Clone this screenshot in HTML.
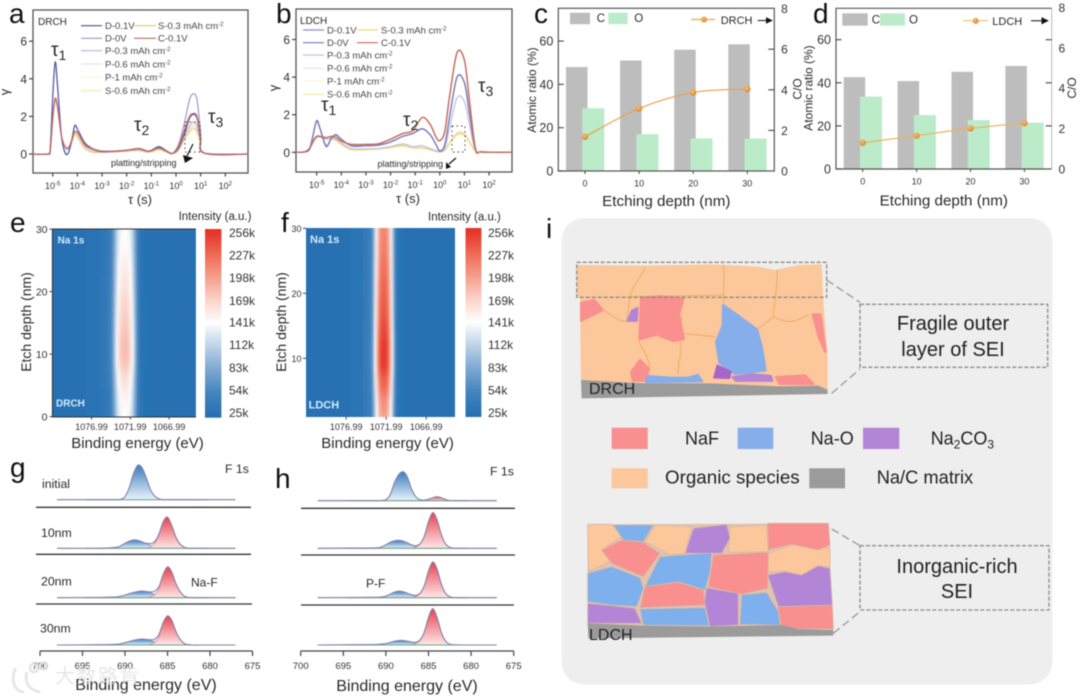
<!DOCTYPE html>
<html lang="en">
<head>
<meta charset="utf-8">
<title>SEI characterisation figure</title>
<style>
html,body{margin:0;padding:0;background:#fff;width:1080px;height:698px;overflow:hidden}
svg{display:block;filter:blur(0.4px)}
text{font-family:"Liberation Sans","Noto Sans CJK SC",sans-serif;fill:#2a2a2a}
.letter{font-size:28px;fill:#111}
.leg{font-size:9.5px;fill:#444}
.title{font-size:15.2px;fill:#2a2a2a}
</style>
</head>
<body>
<svg id="fig" width="1080" height="698" viewBox="0 0 1080 698" xmlns="http://www.w3.org/2000/svg">
<defs>
<linearGradient id="grad-blue" x1="0" y1="0" x2="0" y2="1"><stop offset="0" stop-color="#3a7dbf"/><stop offset="1" stop-color="#eaf2fa"/></linearGradient>
<linearGradient id="grad-red" x1="0" y1="0" x2="0" y2="1"><stop offset="0" stop-color="#e8404f"/><stop offset="1" stop-color="#fde8e8"/></linearGradient>
<radialGradient id="grad-dot" cx="0.4" cy="0.35" r="0.7"><stop offset="0" stop-color="#f7c27a"/><stop offset="1" stop-color="#d9801f"/></radialGradient>
<clipPath id="clip-e"><rect x="52.4" y="229" width="143.5" height="188"/></clipPath>
<clipPath id="clip-f"><rect x="306" y="228" width="149" height="189"/></clipPath>
<filter id="heat-blur" x="-5%" y="-5%" width="110%" height="110%"><feGaussianBlur stdDeviation="0.7 6"/></filter>
</defs>
<rect x="0" y="0" width="1080" height="698" fill="#fff"/>

<!-- PANEL A -->
<g id="panel-a">
<text class="letter" x="9" y="23">a</text>
<rect x="33" y="10" width="215" height="163" fill="none" stroke="#555" stroke-width="1.3"/>
<text x="38" y="25" font-size="10">DRCH</text>
<g id="a-ticks"></g>
<g id="a-lines"></g>
<text x="9" y="92" font-size="13" transform="rotate(-90 9 92)" text-anchor="middle">γ</text>
<text x="140" y="204" font-size="13" text-anchor="middle">τ (s)</text>
<text x="51" y="56" font-size="19">τ<tspan font-size="14" dy="4">1</tspan></text>
<text x="134" y="131" font-size="19">τ<tspan font-size="14" dy="4">2</tspan></text>
<text x="208" y="123" font-size="19">τ<tspan font-size="14" dy="4">3</tspan></text>
<text x="111" y="166" font-size="9" fill="#222">platting/stripping</text>
<rect x="185" y="122" width="15" height="30" fill="none" stroke="#444" stroke-width="1" stroke-dasharray="1.5 3"/>
<path d="M193,144 L187,156" stroke="#111" stroke-width="1.2" fill="none"/>
<path d="M183,155 L193,158 L185,163 Z" fill="#111"/>
<g>
<line x1="81" x2="102" y1="25.7" y2="25.7" stroke="#4a4f98" stroke-width="1.1"/><text class="leg" x="105" y="29">D-0.1V</text>
<line x1="134" x2="156" y1="25.7" y2="25.7" stroke="#f2c76e" stroke-width="1.1"/><text class="leg" x="158" y="29">S-0.3 mAh cm<tspan font-size="6" dy="-3">-2</tspan></text>
<line x1="81" x2="102" y1="38.3" y2="38.3" stroke="#9c98cf" stroke-width="1.1"/><text class="leg" x="105" y="41.6">D-0V</text>
<line x1="134" x2="156" y1="38.3" y2="38.3" stroke="#c46a60" stroke-width="1.1"/><text class="leg" x="158" y="41.6">C-0.1V</text>
<line x1="81" x2="102" y1="50.7" y2="50.7" stroke="#bdb2d3" stroke-width="1.1"/><text class="leg" x="105" y="54">P-0.3 mAh cm<tspan font-size="6" dy="-3">-2</tspan></text>
<line x1="81" x2="102" y1="64" y2="64" stroke="#e2deec" stroke-width="1.1"/><text class="leg" x="105" y="67.3">P-0.6 mAh cm<tspan font-size="6" dy="-3">-2</tspan></text>
<line x1="81" x2="102" y1="77.3" y2="77.3" stroke="#fbf4d0" stroke-width="1.1"/><text class="leg" x="105" y="80.6">P-1 mAh cm<tspan font-size="6" dy="-3">-2</tspan></text>
<line x1="81" x2="102" y1="90.7" y2="90.7" stroke="#f6e8a6" stroke-width="1.1"/><text class="leg" x="105" y="94">S-0.6 mAh cm<tspan font-size="6" dy="-3">-2</tspan></text>
</g>
</g>

<!-- PANEL B -->
<g id="panel-b">
<text class="letter" x="276" y="23">b</text>
<rect x="296" y="9" width="216" height="163" fill="none" stroke="#555" stroke-width="1.3"/>
<text x="300" y="24" font-size="10">LDCH</text>
<g id="b-ticks"></g>
<g id="b-lines"></g>
<text x="278" y="88" font-size="13" transform="rotate(-90 278 88)" text-anchor="middle">γ</text>
<text x="408" y="203" font-size="13" text-anchor="middle">τ (s)</text>
<text x="321" y="111" font-size="19">τ<tspan font-size="14" dy="4">1</tspan></text>
<text x="403" y="126" font-size="19">τ<tspan font-size="14" dy="4">2</tspan></text>
<text x="478" y="92" font-size="19">τ<tspan font-size="14" dy="4">3</tspan></text>
<text x="377.5" y="167" font-size="9" fill="#222">platting/stripping</text>
<rect x="452" y="126" width="13" height="26" fill="none" stroke="#444" stroke-width="1" stroke-dasharray="1.5 3"/>
<path d="M456,158 L449,164" stroke="#111" stroke-width="1.2" fill="none"/>
<path d="M446,162 L451,167 L446,169 Z" fill="#111"/>
<g>
<line x1="303" x2="324" y1="30" y2="30" stroke="#8c90cc" stroke-width="1.2"/><text class="leg" x="327" y="33.3">D-0.1V</text>
<line x1="357" x2="378" y1="30" y2="30" stroke="#f2d67e" stroke-width="1.2"/><text class="leg" x="381" y="33.3">S-0.3 mAh cm<tspan font-size="6" dy="-3">-2</tspan></text>
<line x1="303" x2="324" y1="42.7" y2="42.7" stroke="#7a7ab8" stroke-width="1.2"/><text class="leg" x="327" y="46">D-0V</text>
<line x1="357" x2="378" y1="42.7" y2="42.7" stroke="#c4705e" stroke-width="1.2"/><text class="leg" x="381" y="46">C-0.1V</text>
<line x1="303" x2="324" y1="55" y2="55" stroke="#c5c0de" stroke-width="1.2"/><text class="leg" x="327" y="58.3">P-0.3 mAh cm<tspan font-size="6" dy="-3">-2</tspan></text>
<line x1="303" x2="324" y1="68.3" y2="68.3" stroke="#e4e0ee" stroke-width="1.2"/><text class="leg" x="327" y="71.6">P-0.6 mAh cm<tspan font-size="6" dy="-3">-2</tspan></text>
<line x1="303" x2="324" y1="81" y2="81" stroke="#fbf6d4" stroke-width="1.2"/><text class="leg" x="327" y="84.3">P-1 mAh cm<tspan font-size="6" dy="-3">-2</tspan></text>
<line x1="303" x2="324" y1="94.3" y2="94.3" stroke="#f0ee9c" stroke-width="1.2"/><text class="leg" x="327" y="97.6">S-0.6 mAh cm<tspan font-size="6" dy="-3">-2</tspan></text>
</g>
</g>

<!-- PANEL C -->
<g id="panel-c">
<text class="letter" x="534" y="23">c</text>
<g id="c-bars"></g>
<rect x="558.3" y="8.3" width="216" height="162.7" fill="none" stroke="#555" stroke-width="1.2"/>
<g id="c-ticks"></g>
<g id="c-line"></g>
<rect x="570" y="12.7" width="20" height="11.5" fill="#bdbdbd"/>
<text x="596.7" y="22" font-size="11.5">C</text>
<rect x="608.3" y="12.7" width="19.4" height="11.5" fill="#bcebca"/>
<text x="634.3" y="22" font-size="11.5">O</text>
<line x1="691" x2="715" y1="19.5" y2="19.5" stroke="#eaa94d" stroke-width="1.2"/>
<circle cx="704" cy="19.5" r="3" fill="url(#grad-dot)"/>
<text x="720.7" y="24" font-size="11">DRCH</text>
<path d="M757.7,20.5 H766.5 M766.5,18 L771.7,20.5 L766.5,23 Z" stroke="#111" fill="#111" stroke-width="1"/>
<text x="536" y="90" font-size="12" text-anchor="middle" transform="rotate(-90 536 90)">Atomic ratio (%)</text>
<text x="801.7" y="89" font-size="12" text-anchor="middle" transform="rotate(-90 801.7 89)">C/O</text>
<text class="title" x="666.3" y="206" text-anchor="middle">Etching depth (nm)</text>
</g>

<!-- PANEL D -->
<g id="panel-d">
<text class="letter" x="813" y="23">d</text>
<g id="d-bars"></g>
<path d="M1051.7,8.3 H836 V169 H1051.7" fill="none" stroke="#555" stroke-width="1.2"/>
<line x1="1051.7" x2="1051.7" y1="8.3" y2="169" stroke="#aaa" stroke-width="0.8"/>
<rect x="842.3" y="13.3" width="25.4" height="12.4" fill="#bdbdbd"/>
<text x="871.7" y="23.5" font-size="11.5">C</text>
<rect x="880" y="13.3" width="25" height="12.4" fill="#bcebca"/>
<text x="909" y="23.5" font-size="11.5">O</text>
<g id="d-ticks"></g>
<g id="d-line"></g>
<line x1="963.3" x2="988.3" y1="20.7" y2="20.7" stroke="#eac06a" stroke-width="1.2"/>
<circle cx="975.7" cy="20.7" r="3" fill="url(#grad-dot)"/>
<text x="992.3" y="25" font-size="11">LDCH</text>
<path d="M1031,20.8 H1042 M1042,18 L1047.7,20.8 L1042,23.6 Z" stroke="#111" fill="#111" stroke-width="1"/>
<text x="812.3" y="88" font-size="12" text-anchor="middle" transform="rotate(-90 812.3 88)">Atomic ratio (%)</text>
<text x="1076" y="88" font-size="12" text-anchor="middle" transform="rotate(-90 1076 88)">C/O</text>
<text class="title" x="943.8" y="205.7" text-anchor="middle">Etching depth (nm)</text>
</g>

<!-- PANEL E -->
<g id="panel-e">
<text class="letter" x="10" y="232">e</text>
<rect x="52.4" y="229" width="143.5" height="188" fill="#2771b3"/>
<g clip-path="url(#clip-e)"><g id="e-cells" filter="url(#heat-blur)"></g></g>
<path d="M52.4,229 V417 H195.9 M52.4,229 H195.9" fill="none" stroke="#333" stroke-width="1"/>
<g id="e-ticks"></g>
<text x="57.6" y="243.5" font-size="10" font-weight="bold" style="fill:#d3ebf8">Na 1s</text>
<text x="56" y="406.5" font-size="10" font-weight="bold" style="fill:#d3ebf8">DRCH</text>
<text x="178.6" y="220" font-size="11.5">Intensity (a.u.)</text>
<text x="137.5" y="448" font-size="15" text-anchor="middle">Binding energy (eV)</text>
<text x="31" y="322" font-size="14" text-anchor="middle" transform="rotate(-90 31 322)">Etch depth (nm)</text>
<rect id="cb-e" x="205" y="229" width="16.4" height="188.7"/>
</g>

<!-- PANEL F -->
<g id="panel-f">
<text class="letter" x="281" y="232">f</text>
<rect x="306" y="228" width="149" height="189" fill="#2771b3"/>
<g clip-path="url(#clip-f)"><g id="f-cells" filter="url(#heat-blur)"></g></g>
<g id="f-ticks"></g>
<text x="310" y="243" font-size="11" font-weight="bold" style="fill:#d3ebf8">Na 1s</text>
<text x="308.6" y="408.5" font-size="11" font-weight="bold" style="fill:#d3ebf8">LDCH</text>
<text x="428" y="220.5" font-size="11.5">Intensity (a.u.)</text>
<text x="387.6" y="448" font-size="15" text-anchor="middle">Binding energy (eV)</text>
<text x="286" y="322" font-size="14" text-anchor="middle" transform="rotate(-90 286 322)">Etch depth (nm)</text>
<rect id="cb-f" x="465.5" y="228" width="15.9" height="189"/>
</g>

<!-- PANEL G -->
<g id="panel-g">
<text class="letter" x="10" y="477">g</text>
<g id="g-spectra"></g>
<g id="g-axis"></g>
<path d="M36,507.3 H251 M36,554.3 H251 M36,604 H252" stroke="#333" stroke-width="1.3" fill="none"/>
<text x="225" y="473" font-size="12.3">F 1s</text>
<text x="42" y="488" font-size="12.3">initial</text>
<text x="41" y="537" font-size="12.3">10nm</text>
<text x="41" y="585.7" font-size="12.3">20nm</text>
<text x="40" y="632.7" font-size="12.3">30nm</text>
<text x="191" y="586.7" font-size="12">Na-F</text>
<text x="146" y="690" font-size="16" text-anchor="middle">Binding energy (eV)</text>
</g>

<!-- PANEL H -->
<g id="panel-h">
<text class="letter" x="275" y="488">h</text>
<g id="h-spectra"></g>
<g id="h-axis"></g>
<path d="M301,508.3 H515 M301,555 H515 M301,605 H514" stroke="#333" stroke-width="1.3" fill="none"/>
<text x="490" y="475.7" font-size="12.3">F 1s</text>
<text x="366" y="587.3" font-size="12">P-F</text>
<text x="407" y="691" font-size="16" text-anchor="middle">Binding energy (eV)</text>
</g>

<!-- PANEL I -->
<g id="panel-i">
<text class="letter" x="546" y="238">i</text>
<rect x="561.7" y="218.3" width="490.6" height="466" rx="22" ry="22" fill="#eeeeee"/>
<g transform="translate(545,215) scale(0.33333)" stroke-linejoin="round">
<polygon points="95,150 300,152 510,148 640,155 690,165 760,150 830,148 835,260 848,420 848,525 108,505 105,250 95,240" fill="#fcc79a"/>
<g fill="none" stroke="#e8b062" stroke-width="3">
<path d="M300,155 C290,190 260,210 255,245 L245,320 C225,320 195,300 178,285"/>
<path d="M535,150 C540,190 535,230 535,265"/>
<path d="M695,165 C700,200 690,240 685,305 C720,320 740,330 790,298"/>
<path d="M640,340 C660,325 670,320 685,305"/>
<path d="M405,355 L510,365"/>
<path d="M405,385 C412,410 400,440 398,480"/>
<path d="M280,378 C290,400 310,420 315,460"/>
<path d="M255,245 L535,240 M410,300 L405,385"/>
</g>
<g fill="#f98f8f" stroke="#f98f8f" stroke-width="8">
<polygon points="109,264 148,256 172,285 109,316"/>
<polygon points="289,249 345,244 414,252 401,300 416,371 385,378 335,358 284,372"/>
<polygon points="804,299 826,299 841,410 822,366"/>
<polygon points="264,496 259,472 285,436 311,462 301,496"/>
<polygon points="694,487 780,482 804,506 704,506"/>
</g>
<g fill="#86aeea" stroke="#86aeea" stroke-width="8">
<polygon points="535,271 588,309 636,344 651,402 661,466 570,476 524,443 514,380 534,332"/>
<polygon points="309,484 375,489 430,489 458,480 470,498 304,501"/>
</g>
<g fill="#b385d6" stroke="#b385d6" stroke-width="5">
<polygon points="247,318 260,287 278,278 276,318"/>
<polygon points="507,488 517,451 558,470 553,490" fill="#a865c9" stroke="#a865c9"/>
<polygon points="562,486 620,477 678,482 683,498 572,498"/>
</g>
<polygon points="108,495 300,505 500,505 700,514 820,512 848,525 848,537 110,550" fill="#9b9b9b"/>
<rect x="95" y="142" width="750" height="105" fill="none" stroke="#8c8c8c" stroke-width="4" stroke-dasharray="12 6"/>
<path d="M845,195 L945,262 M860,535 L945,462" fill="none" stroke="#9a9a9a" stroke-width="4" stroke-dasharray="24 12"/>
<rect x="945" y="268" width="563" height="189" fill="none" stroke="#8c8c8c" stroke-width="4" stroke-dasharray="12 6"/>
</g>
<text x="589" y="394" font-size="16" style="fill:#222">DRCH</text>
<text x="953" y="330" font-size="20" text-anchor="middle" style="fill:#222">Fragile outer</text>
<text x="953" y="356" font-size="20" text-anchor="middle" style="fill:#222">layer of SEI</text>

<g>
<rect x="611.7" y="427.7" width="36" height="21.3" fill="#f98f8f"/>
<text x="685" y="444.5" font-size="18" style="fill:#222">NaF</text>
<rect x="737.7" y="427.7" width="35.6" height="21.3" fill="#86aeea"/>
<text x="810.7" y="444.5" font-size="18" style="fill:#222">Na-O</text>
<rect x="863" y="427.7" width="36.3" height="21.3" fill="#b385d6"/>
<text x="930.7" y="444.5" font-size="18" style="fill:#222">Na<tspan font-size="12" dy="4">2</tspan><tspan dy="-4">CO</tspan><tspan font-size="12" dy="4">3</tspan></text>
<rect x="611.7" y="468.3" width="36" height="20" fill="#fcc79a"/>
<text x="665" y="483.5" font-size="18.8" style="fill:#222">Organic species</text>
<rect x="809.3" y="468.3" width="35.7" height="20" fill="#9b9b9b"/>
<text x="876.7" y="483.5" font-size="18.3" style="fill:#222">Na/C matrix</text>
</g>

<g transform="translate(545,455) scale(0.33333)" stroke="#d4b8a8" stroke-width="2.5" stroke-linejoin="round">
<polygon points="128,208 850,205 865,525 128,510" fill="#e3c3ae" stroke="none"/>
<g fill="#fcc79a">
<polygon points="128,208 200,208 230,245 170,285 195,320 130,350"/>
<polygon points="330,210 440,215 420,295 375,300 300,260"/>
<polygon points="555,215 665,210 670,290 550,292"/>
<polygon points="670,295 740,270 855,278 855,335 815,335 770,360 720,348 670,352"/>
</g>
<g fill="#f98f8f">
<polygon points="668,205 850,205 855,270 820,285 740,268 670,285"/>
<polygon points="170,285 230,255 295,262 345,295 295,365 200,325"/>
<polygon points="505,300 670,292 668,400 590,418 490,395"/>
<polygon points="300,395 400,382 475,405 480,450 285,458"/>
<polygon points="698,455 862,450 865,522 710,520"/>
</g>
<g fill="#7db0ec">
<polygon points="205,210 325,210 295,260 235,255"/>
<polygon points="128,355 200,335 285,368 295,400 275,455 200,450 128,440"/>
<polygon points="345,305 500,293 495,350 480,405 400,380 300,395"/>
<polygon points="285,462 480,458 492,512 295,510"/>
<polygon points="590,420 665,412 700,470 705,510 585,508"/>
</g>
<g fill="#b385d6">
<polygon points="445,220 545,208 555,250 530,295 420,295"/>
<polygon points="668,360 720,350 770,360 820,332 855,340 862,450 700,455"/>
<polygon points="128,445 200,452 270,460 290,505 128,505"/>
<polygon points="485,398 580,415 580,510 495,515 478,440"/>
</g>
<polygon points="128,505 300,512 500,515 710,510 760,522 865,525 865,542 130,550" fill="#9b9b9b" stroke="none"/>
<path d="M860,222 L945,272 M865,535 L945,470" fill="none" stroke="#9a9a9a" stroke-width="4" stroke-dasharray="24 12"/>
<rect x="945" y="272" width="567" height="193" fill="none" stroke="#8c8c8c" stroke-width="4" stroke-dasharray="12 6"/>
</g>
<text x="589" y="640" font-size="16" style="fill:#222">LDCH</text>
<text x="957" y="573" font-size="20" text-anchor="middle" style="fill:#222">Inorganic-rich</text>
<text x="957" y="598" font-size="20" text-anchor="middle" style="fill:#222">SEI</text>
</g>

<!-- WATERMARK -->
<g opacity="0.8">
<path d="M16,668 C10,678 14,692 24,692 M27,672 C24,684 30,690 40,692 M30,668 a4,4 0 1 0 8,0 a4,4 0 1 0 -8,0 M40,666 a3.5,3.5 0 1 0 7,0 a3.5,3.5 0 1 0 -7,0" fill="none" stroke="#e2e2e2" stroke-width="3"/>
<text x="55" y="683" font-size="20" letter-spacing="1.5" style="fill:#e2e2e2">大数路肯</text>
</g>

<script>
// ---------- panel a (DRT, gamma vs log10 tau) ----------
var aTau = [-5.8,-5.2,-5.1,-5.0,-4.9,-4.8,-4.65,-4.5,-4.35,-4.2,-4.1,-3.95,-3.7,-3.4,-3.0,-2.5,-2.0,-1.5,-1.1,-0.7,-0.4,-0.15,0.1,0.35,0.55,0.7,0.85,1.0,1.15,2.93];
var aD01 = [0,0,.3,3,4.9,3.6,1,.05,.1,.9,1.5,1.2,.6,.3,.15,.15,.2,.28,.15,.38,.18,.03,.3,1.1,1.9,2.1,1.9,.8,.05,0];
var aD0  = [0,0,.3,3,4.85,3.5,1,.1,.1,.95,1.55,1.2,.6,.3,.15,.15,.2,.3,.15,.4,.18,.03,.5,1.7,2.9,3.2,2.9,1.2,.05,0];
var aP03 = [0,0,.2,1.8,2.85,2.4,1,.35,.3,.8,1.2,1,.45,.2,.1,.12,.2,.22,.12,.3,.15,.03,.3,1,1.5,1.7,1.5,.7,.05,0];
var aP06 = [0,0,.2,1.8,2.85,2.4,1,.35,.25,.7,1.1,.8,.3,.12,.1,.1,.15,.18,.1,.25,.12,.02,.25,.9,1.3,1.45,1.3,.6,.05,0];
var aP1  = [0,0,.2,1.8,2.85,2.4,1,.35,.25,.65,1,.7,.2,.08,.08,.1,.13,.15,.08,.2,.1,.02,.2,.7,1.1,1.2,1.1,.5,.04,0];
var aS03 = [0,0,.2,1.85,2.9,2.4,1,.35,.3,.75,1.1,.85,.35,.1,.1,.12,.15,.2,.1,.25,.12,.02,.2,.8,1.2,1.35,1.2,.55,.04,0];
var aS06 = [0,0,.2,1.85,2.9,2.4,1,.35,.28,.72,1.05,.8,.3,.1,.1,.12,.15,.18,.1,.22,.1,.02,.25,.9,1.4,1.55,1.4,.6,.04,0];
var aC01 = [0,0,.2,1.9,2.95,2.5,1,.4,.35,.85,1.2,1.05,.5,.28,.12,.15,.2,.28,.15,.32,.15,.02,.4,1.3,2,2.15,2,.9,.05,0];

// ---------- panel b ----------
var bTau = [-5.8,-5.5,-5.3,-5.15,-5.0,-4.85,-4.62,-4.4,-4.22,-4.0,-3.6,-3.0,-2.5,-2.0,-1.5,-1.1,-0.72,-0.4,-0.15,0.0,0.2,0.4,0.7,1.0,1.2,1.45,1.7,2.93];
var bD01 = [0,.02,.15,.9,1.7,1.2,.3,.75,.95,.7,.35,.35,.38,.55,.85,1,1.25,.95,.4,.05,.4,1.9,4,3.7,2.1,.15,.02,0];
var bD0  = [0,.02,.15,.9,1.65,1.2,.35,.75,.92,.7,.35,.35,.38,.55,.85,1,1.25,.95,.4,.08,.4,1.9,4,3.7,2.1,.15,.02,0];
var bP03 = [0,.02,.15,.5,.8,.8,.7,.75,.7,.5,.2,.18,.2,.3,.45,.3,.35,.2,.08,.03,.2,1.3,2.9,2.7,1.5,.1,.02,0];
var bP06 = [0,.02,.15,.5,.8,.8,.7,.72,.65,.45,.15,.15,.18,.25,.38,.25,.25,.15,.05,.02,.1,.5,1.05,1,.6,.08,.01,0];
var bP1  = [0,.02,.15,.5,.78,.78,.68,.7,.62,.4,.12,.12,.15,.2,.3,.2,.2,.12,.04,.02,.1,.45,.9,.88,.55,.07,.01,0];
var bS03 = [0,.02,.15,.52,.82,.82,.72,.72,.66,.45,.16,.16,.2,.28,.36,.26,.24,.14,.05,.02,.1,.5,.95,.92,.55,.07,.01,0];
var bS06 = [0,.02,.15,.52,.8,.8,.7,.7,.62,.42,.14,.15,.18,.26,.34,.24,.22,.12,.05,.02,.1,.5,1,.96,.58,.07,.01,0];
var bC01 = [0,.02,.2,.6,.85,.85,.78,.85,.8,.6,.42,.42,.45,.7,1,1.15,1.85,1.5,.8,.62,1.1,3,5.3,4.9,2.8,.2,.02,0];

var drtTickExponents = [-5,-4,-3,-2,-1,0,1,2];
var drtGammaTicks = [0,2,4,6];

// ---------- panels c, d (atomic ratio bars + C/O line) ----------
var depthCategories = [0,10,20,30];
var cCarbon = [48,51,56,58.5];
var cOxygen = [29,17,15,15];
var cRatio  = [1.69,3.08,3.87,4.04];
var dCarbon = [42.6,40.8,45.1,47.8];
var dOxygen = [33.6,25,22.7,21.5];
var dRatio  = [1.3,1.65,2.01,2.27];
var atomicTicks = [0,20,40,60];
var ratioTicks = [0,2,4,6,8];

// ---------- panels e, f (heatmaps, intensity in k counts) ----------
var heatDepths = [0,3,6,9,12,15,18,21,24,27,30];
var ePeakIntensity = [142,150,163,182,183,176,170,162,155,147,142];
var fPeakIntensity = [195,208,232,256,256,246,238,232,225,218,214];
var peakOffsets = [-5,-3.2,-2.5,-2.1,-1.8,-1.5,-1.2,-0.9,-0.6,-0.3,0,0.3,0.6,0.9,1.2,1.5,1.8,2.1,2.5,3.2];
var peakProfile = [0,.04,.08,.1,.16,.34,.58,.8,.93,.98,1,.98,.93,.8,.58,.3,.1,.03,.01,0];
var energyTicks = [1076.99,1071.99,1066.99];
var eDepthTicks = [0,10,20,30];
var fDepthTicks = [10,20,30];
var colorbarValues = [25,54,83,112,141,169,198,227,256];
var colorbarColors = ['#2771b3','#4686c0','#7ea9d2','#bed3e7','#ffffff','#fbd5cb','#f5a08d','#ee6b56','#e5352a'];

// ---------- panels g, h (F 1s spectra) ----------
var bindingGrid = [698,693,691,690.5,690,689.5,689,688.5,688,687.5,687,686.5,686,685.5,685,684.5,684,683.5,683,682.5,682,681,677];
var gBlueInitial = [0,0,0,.5,3,12,26,34.5,32,22,10,3.5,1,0,0,0,0,0,0,0,0,0,0];
var gBlue10 = [0,0,1,2.5,5,7.2,8.3,8,6.5,5,3.2,1.8,.6,0,0,0,0,0,0,0,0,0,0];
var gBlue20 = [0,.3,.8,1.5,2.6,4,5.2,6.2,6.7,6.2,5,3.6,2.2,1,.3,0,0,0,0,0,0,0,0];
var gBlue30 = [0,.3,.7,1.3,2.3,3.5,4.6,5.5,6,5.6,4.6,3.4,2.2,1.1,.3,0,0,0,0,0,0,0,0];
var gRedInitial = [0,0,0,0,0,0,0,0,0,0,0,0,0,0,0,0,0,0,0,0,0,0,0];
var gRed10 = [0,0,0,0,0,0,0,0,0,0,1.5,5,14,27,31.5,23,11,4,1,0,0,0,0];
var gRed20 = [0,0,0,0,0,0,0,0,0,0,.8,3,9,23,31,26,14,6,1.5,.3,0,0,0];
var gRed30 = [0,0,0,0,0,0,0,0,0,0,.6,2.5,8.5,22,29.3,25,13.5,5.5,1.3,.3,0,0,0];
var hBlue1 = [0,0,0,.3,1,6,18,26,29,24,12,4,1,.2,0,0,0,0,0,0,0,0,0];
var hBlue2 = [0,.2,.5,1.5,3.5,6,7.5,8,7.3,5.5,3.3,1.5,.5,0,0,0,0,0,0,0,0,0,0];
var hBlue3 = [0,.3,.5,.8,1.5,3.5,5.5,6.5,6,4.5,2.8,1.3,.4,0,0,0,0,0,0,0,0,0,0];
var hBlue4 = [0,.3,.6,1,1.5,2.5,3.7,4.4,4.5,3.8,2.8,1.6,.6,.1,0,0,0,0,0,0,0,0,0];
var hRed1 = [0,0,0,0,0,0,0,0,0,0,0,0,0,.3,1.5,3,4,3,1.2,.2,0,0,0];
var hRed2 = [0,0,0,0,0,0,0,0,0,0,.2,1,4,12,27,36,29,14,4.5,1,.2,0,0];
var hRed3 = [0,0,0,0,0,0,0,0,0,0,.2,1,4,12,27,36,29,14,4.5,1,.2,0,0];
var hRed4 = [0,0,0,0,0,0,0,0,0,0,.2,1.2,4.5,13,28,36.7,28,13,4,.8,.2,0,0];
var bindingTicks = [700,695,690,685,680,675];

var NS = 'http://www.w3.org/2000/svg';
function mk(tag, parentId) {
  var el = document.createElementNS(NS, tag);
  (typeof parentId === 'string' ? document.getElementById(parentId) : parentId).appendChild(el);
  return el;
}
function smooth(pts) {
  var d = 'M' + pts[0][0].toFixed(2) + ',' + pts[0][1].toFixed(2);
  for (var i = 0; i < pts.length - 1; i++) {
    var p0 = pts[Math.max(i - 1, 0)], p1 = pts[i], p2 = pts[i + 1], p3 = pts[Math.min(i + 2, pts.length - 1)];
    var c1x = p1[0] + (p2[0] - p0[0]) / 6, c1y = p1[1] + (p2[1] - p0[1]) / 6;
    var c2x = p2[0] - (p3[0] - p1[0]) / 6, c2y = p2[1] - (p3[1] - p1[1]) / 6;
    d += 'C' + c1x.toFixed(2) + ',' + c1y.toFixed(2) + ' ' + c2x.toFixed(2) + ',' + c2y.toFixed(2) + ' ' + p2[0].toFixed(2) + ',' + p2[1].toFixed(2);
  }
  return d;
}
function drawTick(parent, x1, y1, x2, y2, w) {
  var t = mk('line', parent);
  
  
  t.setAttribute('x1', x1); t.setAttribute('y1', y1); t.setAttribute('x2', x2); t.setAttribute('y2', y2);
  t.setAttribute('stroke', '#444'); t.setAttribute('stroke-width', w || 1);
}
function drawLabel(parent, x, y, str, size, anchor) {
  var t = mk('text', parent);
  
  
  t.setAttribute('x', x); t.setAttribute('y', y);
  t.setAttribute('font-size', size); t.setAttribute('text-anchor', anchor || 'middle');
  t.style.fill = '#333';
  t.textContent = str;
  return t;
}

// ----- DRT panels -----
function drawDRT(prefix, xs, series, colors, widths, xScale, yScale, bottom, left) {
  drtGammaTicks.forEach(function (v) {
    drawTick(prefix + '-ticks', left - 4, yScale(v), left, yScale(v), 1.2);
    drawLabel(prefix + '-ticks', left - 6, yScale(v) + 4.5, String(v), 12, 'end');
  });
  drtTickExponents.forEach(function (e) {
    drawTick(prefix + '-ticks', xScale(e), bottom, xScale(e), bottom + 3.5, 1.2);
    var lab = drawLabel(prefix + '-ticks', xScale(e), bottom + 16, '10', 9);
    var sup = document.createElementNS(NS, 'tspan');
    sup.setAttribute('font-size', '6'); sup.setAttribute('dy', '-3.5');
    sup.textContent = String(e);
    lab.appendChild(sup);
  });
  series.forEach(function (vals, s) {
    var pts = vals.map(function (v, i) { return [xScale(xs[i]), yScale(v)]; });
    var p = mk('path', prefix + '-lines');
    
    
    p.setAttribute('d', smooth(pts));
    p.setAttribute('fill', 'none');
    p.setAttribute('stroke', colors[s]);
    p.setAttribute('stroke-width', widths[s]);
  });
}
function xA(t) { return 52.7 + (t + 5) * 24.66; }
function yA(v) { return 154 - v * 18.8; }
function xB(t) { return 316.7 + (t + 5) * 24.62; }
function yB(v) { return 152.3 - v * 18.8; }
drawDRT('a', aTau, [aP1, aS06, aP06, aS03, aP03, aD0, aD01, aC01],
  ['#fbf4d0', '#f6e8a6', '#e2deec', '#f2c76e', '#bdb2d3', '#9c98cf', '#5a5fa8', '#c46a60'],
  [1.1, 1.1, 1.1, 1.1, 1.1, 1.2, 1.2, 1.3], xA, yA, 173, 33);
drawDRT('b', bTau, [bP1, bP06, bS06, bS03, bP03, bD01, bD0, bC01],
  ['#fbf6d4', '#e4e0ee', '#f0ee9c', '#f2d67e', '#c5c0de', '#8c90cc', '#7a7ab8', '#c4705e'],
  [1.2, 1.2, 1.3, 1.3, 1.3, 1.3, 1.3, 1.5], xB, yB, 172, 296);

// ----- bar panels -----
function drawBars(prefix, carbon, oxygen, ratio, xScale, yLeft, yRight, bottom, left, rightTickValues, rightX, lineColor) {
  depthCategories.forEach(function (cat, i) {
    var c = mk('rect', prefix + '-bars');
    
    
    c.setAttribute('x', xScale(cat) - 19); c.setAttribute('width', 21.5);
    c.setAttribute('y', yLeft(carbon[i])); c.setAttribute('height', bottom - yLeft(carbon[i]));
    c.setAttribute('fill', '#bdbdbd');
    var o = mk('rect', prefix + '-bars');
    
    
    o.setAttribute('x', xScale(cat) - 2.7); o.setAttribute('width', 22);
    o.setAttribute('y', yLeft(oxygen[i])); o.setAttribute('height', bottom - yLeft(oxygen[i]));
    o.setAttribute('fill', '#bcebca');
    drawTick(prefix + '-ticks', xScale(cat), bottom, xScale(cat), bottom + 3, 1);
    drawLabel(prefix + '-ticks', xScale(cat), bottom + 15.7, String(cat), 9);
  });
  atomicTicks.forEach(function (v) {
    drawTick(prefix + '-ticks', left, yLeft(v), left + 5.5, yLeft(v), 1.1);
    drawLabel(prefix + '-ticks', left - 5, yLeft(v) + 4.5, String(v), 12.5, 'end');
  });
  ratioTicks.forEach(function (v) {
    drawLabel(prefix + '-ticks', rightX + 6.8, yRight(v) + 4.5, String(v), 12, 'start');
  });
  rightTickValues.forEach(function (y) {
    drawTick(prefix + '-ticks', rightX - 6, y, rightX, y, 1.1);
  });
  var pts = ratio.map(function (v, i) { return [xScale(depthCategories[i]), yRight(v)]; });
  var l = mk('path', prefix + '-line');
  
  
  l.setAttribute('d', smooth(pts));
  l.setAttribute('fill', 'none');
  l.setAttribute('stroke', lineColor);
  l.setAttribute('stroke-width', 1.2);
  pts.forEach(function (p) {
    var m = mk('circle', prefix + '-line');
    
    
    m.setAttribute('cx', p[0]); m.setAttribute('cy', p[1]); m.setAttribute('r', 3.2);
    m.setAttribute('fill', 'url(#grad-dot)');
  });
}
function xC(d) { return 585 + d * 5.41; }
function yCL(v) { return 171 - v * 2.166; }
function yCR(v) { return 171 - v * 20.3; }
function xD(d) { return 862.7 + d * 5.39; }
function yDL(v) { return 169 - v * 2.155; }
function yDR(v) { return 169 - v * 20.2; }
drawBars('c', cCarbon, cOxygen, cRatio, xC, yCL, yCR, 171, 558.3, [yCR(2), yCR(4), yCR(6)], 774.3, '#e8a24a');
drawBars('d', dCarbon, dOxygen, dRatio, xD, yDL, yDR, 169, 836, [yDL(20), yDL(40), yDL(60)], 1051.7, '#eab45a');

// ----- heatmaps -----
function hexToRgb(h) { return [parseInt(h.substr(1, 2), 16), parseInt(h.substr(3, 2), 16), parseInt(h.substr(5, 2), 16)]; }
function heatColor(v) {
  var n = colorbarValues.length;
  if (v <= colorbarValues[0]) return colorbarColors[0];
  if (v >= colorbarValues[n - 1]) return colorbarColors[n - 1];
  for (var i = 0; i < n - 1; i++) {
    if (v <= colorbarValues[i + 1]) {
      var f = (v - colorbarValues[i]) / (colorbarValues[i + 1] - colorbarValues[i]);
      var a = hexToRgb(colorbarColors[i]), b = hexToRgb(colorbarColors[i + 1]);
      return 'rgb(' + Math.round(a[0] + (b[0] - a[0]) * f) + ',' + Math.round(a[1] + (b[1] - a[1]) * f) + ',' + Math.round(a[2] + (b[2] - a[2]) * f) + ')';
    }
  }
}
function drawHeat(prefix, peaks, center, widthFactor, xScale, yScale, depthTicks, xTickY, ySize, yLabelX, left) {
  var base = 25;
  heatDepths.forEach(function (depth, r) {
    var yTop = r === heatDepths.length - 1 ? yScale(depth) - 30 : yScale((depth + heatDepths[r + 1]) / 2);
    var yBot = r === 0 ? yScale(depth) + 30 : yScale((depth + heatDepths[r - 1]) / 2);
    peakOffsets.forEach(function (off, c) {
      if (c === peakOffsets.length - 1) return;
      var e1 = center - off * widthFactor, e2 = center - peakOffsets[c + 1] * widthFactor;
      var cell = mk('rect', prefix + '-cells');
      
      
      cell.setAttribute('x', xScale(e1)); cell.setAttribute('width', xScale(e2) - xScale(e1) + 0.3);
      cell.setAttribute('y', yTop); cell.setAttribute('height', yBot - yTop + 0.3);
      var val = base + (peaks[r] - base) * (peakProfile[c] + peakProfile[c + 1]) / 2;
      cell.setAttribute('fill', heatColor(val));
    });
  });
  energyTicks.forEach(function (e) {
    drawTick(prefix + '-ticks', xScale(e), 417, xScale(e), 419.5, 1);
    drawLabel(prefix + '-ticks', xScale(e), xTickY, String(e), 9);
  });
  depthTicks.forEach(function (d) {
    drawTick(prefix + '-ticks', left - 3, yScale(d), left, yScale(d), 1);
    drawLabel(prefix + '-ticks', yLabelX, yScale(d) + 3.7, String(d), ySize, 'end');
  });
}
function xE(e) { return 130.3 - (e - 1071.99) * 7.76; }
function yE(d) { return 416.6 - d * 6.25; }
function xF(e) { return 386.2 - (e - 1071.99) * 8; }
function yF(d) { return 423.3 - d * 6.5; }
drawHeat('e', ePeakIntensity, 1072.7, 1, xE, yE, eDepthTicks, 430, 10.5, 47.5, 52.4);
drawHeat('f', fPeakIntensity, 1072.29, 0.82, xF, yF, fDepthTicks, 430, 9, 301.5, 306);

function drawColorbar(barId, labelsParent, labelX) {
  var defs = document.querySelector('defs');
  var g = document.createElementNS(NS, 'linearGradient');
  g.setAttribute('id', barId + '-grad');
  g.setAttribute('x1', '0'); g.setAttribute('x2', '0'); g.setAttribute('y1', '1'); g.setAttribute('y2', '0');
  colorbarValues.forEach(function (v, i) {
    var s = document.createElementNS(NS, 'stop');
    s.setAttribute('offset', ((v - 25 + 4) / (256 - 25 + 8)).toFixed(3));
    s.setAttribute('stop-color', colorbarColors[i]);
    g.appendChild(s);
  });
  defs.appendChild(g);
  document.getElementById(barId).setAttribute('fill', 'url(#' + barId + '-grad)');
  var labels = colorbarValues.map(function (v) { return v + 'k'; });
  labels.forEach(function (str, i) {
    var cy = 413 - (colorbarValues[i] - 25) * (180 / (256 - 25));
    drawLabel(labelsParent, labelX, cy + 4, str, 12, 'start');
  });
}
drawColorbar('cb-e', 'e-ticks', 229);
drawColorbar('cb-f', 'f-ticks', 488);

// ----- XPS spectra -----
function drawSpectrum(parentId, base, blue, red, xScale) {
  var bluePts = blue.map(function (v, i) { return [xScale(bindingGrid[i]), base - v]; });
  var redPts = red.map(function (v, i) { return [xScale(bindingGrid[i]), base - v]; });
  var envPts = blue.map(function (v, i) { return [xScale(bindingGrid[i]), base - v - red[i] * 0.98]; });
  var x0 = xScale(bindingGrid[0]), x1 = xScale(bindingGrid[bindingGrid.length - 1]);
  var bf = mk('path', parentId);
  
  
  bf.setAttribute('d', smooth(bluePts) + 'L' + x1 + ',' + base + 'L' + x0 + ',' + base + 'Z');
  bf.setAttribute('fill', 'url(#grad-blue)');
  bf.setAttribute('stroke', '#6f9ac8');
  bf.setAttribute('stroke-width', '0.6');
  if (Math.max.apply(null, red) > 0) {
    var rf = mk('path', parentId);
    
    
    rf.setAttribute('d', smooth(redPts) + 'L' + x1 + ',' + base + 'L' + x0 + ',' + base + 'Z');
    rf.setAttribute('fill', 'url(#grad-red)');
    rf.setAttribute('stroke', '#e58a96');
    rf.setAttribute('stroke-width', '0.8');
  }
  var bl = mk('line', parentId);
  
  
  bl.setAttribute('x1', x0 + 28); bl.setAttribute('x2', x1 - 28); bl.setAttribute('y1', base); bl.setAttribute('y2', base);
  bl.setAttribute('stroke', '#62ab88'); bl.setAttribute('stroke-width', '1');
  var env = mk('path', parentId);
  
  
  env.setAttribute('d', smooth(envPts));
  env.setAttribute('fill', 'none');
  env.setAttribute('stroke', '#8480a8');
  env.setAttribute('stroke-width', '1.1');
}
function drawBindingAxis(parentId, xScale, y) {
  var ln = mk('line', parentId);
  
  
  ln.setAttribute('x1', xScale(700)); ln.setAttribute('x2', xScale(675)); ln.setAttribute('y1', y); ln.setAttribute('y2', y);
  ln.setAttribute('stroke', '#444'); ln.setAttribute('stroke-width', 1.2);
  bindingTicks.forEach(function (t) {
    drawTick(parentId, xScale(t), y, xScale(t), y + 5, 1.2);
    drawLabel(parentId, xScale(t), y + 18, String(t), 9.5);
  });
}
function xG(e) { return 40 + (700 - e) * 8.5; }
function xH(e) { return 300.7 + (700 - e) * 8.52; }
drawSpectrum('g-spectra', 499.7, gBlueInitial, gRedInitial, xG);
drawSpectrum('g-spectra', 548.3, gBlue10, gRed10, xG);
drawSpectrum('g-spectra', 597.7, gBlue20, gRed20, xG);
drawSpectrum('g-spectra', 645, gBlue30, gRed30, xG);
drawBindingAxis('g-axis', xG, 651);
drawSpectrum('h-spectra', 500.7, hBlue1, hRed1, xH);
drawSpectrum('h-spectra', 548.3, hBlue2, hRed2, xH);
drawSpectrum('h-spectra', 597.7, hBlue3, hRed3, xH);
drawSpectrum('h-spectra', 645, hBlue4, hRed4, xH);
drawBindingAxis('h-axis', xH, 651);
</script>
</svg>
</body>
</html>
